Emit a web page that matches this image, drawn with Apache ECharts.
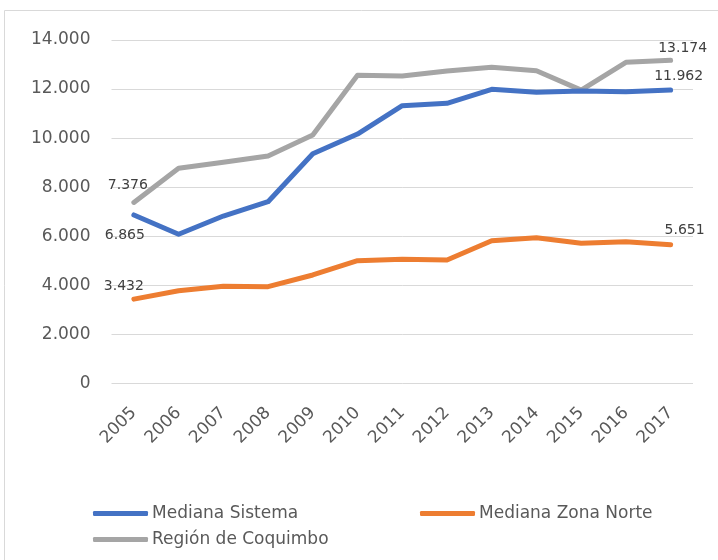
<!DOCTYPE html>
<html>
<head>
<meta charset="utf-8">
<script src="https://cdn.jsdelivr.net/npm/echarts@6/dist/echarts.min.js"></script>
<style>
  html, body { margin: 0; padding: 0; background: #fff; }
  #chart { width: 718px; height: 560px; }
</style>
</head>
<body>
<div id="chart"></div>
<script>
// años
const years = ['2005', '2006', '2007', '2008', '2009', '2010', '2011', '2012', '2013', '2014', '2015', '2016', '2017']
// series
const medianaSistema = [6865, 6080, 6822, 7406, 9360, 10166, 11321, 11418, 11989, 11867, 11920, 11892, 11962]
const medianaZonaNorte = [3432, 3777, 3955, 3940, 4417, 5000, 5056, 5028, 5815, 5938, 5709, 5774, 5651]
const regionCoquimbo = [7376, 8768, 9012, 9270, 10126, 12560, 12532, 12736, 12886, 12748, 11955, 13090, 13174]
const yTicks = [0, 2000, 4000, 6000, 8000, 10000, 12000, 14000]

const fmt = v => String(v).replace(/\B(?=(\d{3})+(?!\d))/g, '.')

// etiqueta solo en el primer y último punto
function withEndLabels(values, first, last) {
    return values.map((v, i) => {
        if (i === 0) return { value: v, label: Object.assign({ show: true }, first) }
        if (i === values.length - 1) return { value: v, label: Object.assign({ show: true }, last) }
        return v
    })
}

const labelStyle = {
    show: false,
    fontFamily: 'DejaVu Sans',
    fontSize: 14,
    color: '#404040',
    formatter: p => fmt(p.value)
}

const myChart = echarts.init(document.getElementById('chart'))
const options = {
    animation: false,
    textStyle: { fontFamily: 'DejaVu Sans' },
    graphic: [{
        type: 'rect',
        shape: { x: 4.5, y: 10.5, width: 730, height: 570 },
        style: { fill: 'none', stroke: '#d9d9d9', lineWidth: 1 },
        silent: true
    }],
    grid: {
        left: 111.5,
        right: 25,
        top: 40,
        bottom: 176.7
    },
    xAxis: {
        type: 'category',
        data: years,
        boundaryGap: true,
        axisLine: { show: false },
        axisTick: { show: false },
        axisLabel: {
            rotate: 45,
            margin: 27,
            interval: 0,
            fontSize: 17,
            color: '#595959'
        }
    },
    yAxis: {
        type: 'value',
        min: 0,
        max: 14000,
        interval: 2000,
        axisLine: { show: false },
        axisTick: { show: false },
        splitLine: { lineStyle: { color: '#d9d9d9', width: 1 } },
        axisLabel: {
            margin: 21,
            fontSize: 17,
            color: '#595959',
            formatter: v => yTicks.includes(v) ? fmt(v) : ''
        }
    },
    legend: [
        {
            data: ['Mediana Sistema'],
            left: 93, top: 505, padding: 0,
            icon: 'roundRect', itemWidth: 55, itemHeight: 5, itemGap: 4,
            textStyle: { fontSize: 17, color: '#595959', padding: [0, 0, 0, -1] }
        },
        {
            data: ['Mediana Zona Norte'],
            left: 420, top: 505, padding: 0,
            icon: 'roundRect', itemWidth: 55, itemHeight: 5,
            textStyle: { fontSize: 17, color: '#595959', padding: [0, 0, 0, -1] }
        },
        {
            data: ['Región de Coquimbo'],
            left: 93, top: 531, padding: 0,
            icon: 'roundRect', itemWidth: 55, itemHeight: 5,
            textStyle: { fontSize: 17, color: '#595959', padding: [0, 0, 0, -1] }
        }
    ],
    series: [
        {
            name: 'Mediana Sistema',
            type: 'line',
            data: withEndLabels(medianaSistema,
                { position: 'bottom', offset: [-9, 8] },
                { position: 'top', offset: [8, -2] }),
            symbol: 'circle',
            symbolSize: 0.01,
            lineStyle: { width: 5, color: '#4472C4', cap: 'round', join: 'round' },
            itemStyle: { color: '#4472C4' },
            label: labelStyle,
            z: 3
        },
        {
            name: 'Mediana Zona Norte',
            type: 'line',
            data: withEndLabels(medianaZonaNorte,
                { position: 'top', offset: [-10, -1] },
                { position: 'top', offset: [14, -2] }),
            symbol: 'circle',
            symbolSize: 0.01,
            lineStyle: { width: 5, color: '#ED7D31', cap: 'round', join: 'round' },
            itemStyle: { color: '#ED7D31' },
            label: labelStyle,
            z: 2
        },
        {
            name: 'Región de Coquimbo',
            type: 'line',
            data: withEndLabels(regionCoquimbo,
                { position: 'top', offset: [-6, -5] },
                { position: 'top', offset: [12, 0] }),
            symbol: 'circle',
            symbolSize: 0.01,
            lineStyle: { width: 5, color: '#A5A5A5', cap: 'round', join: 'round' },
            itemStyle: { color: '#A5A5A5' },
            label: labelStyle,
            z: 1
        }
    ]
}
myChart.setOption(options)
</script>
</body>
</html>
